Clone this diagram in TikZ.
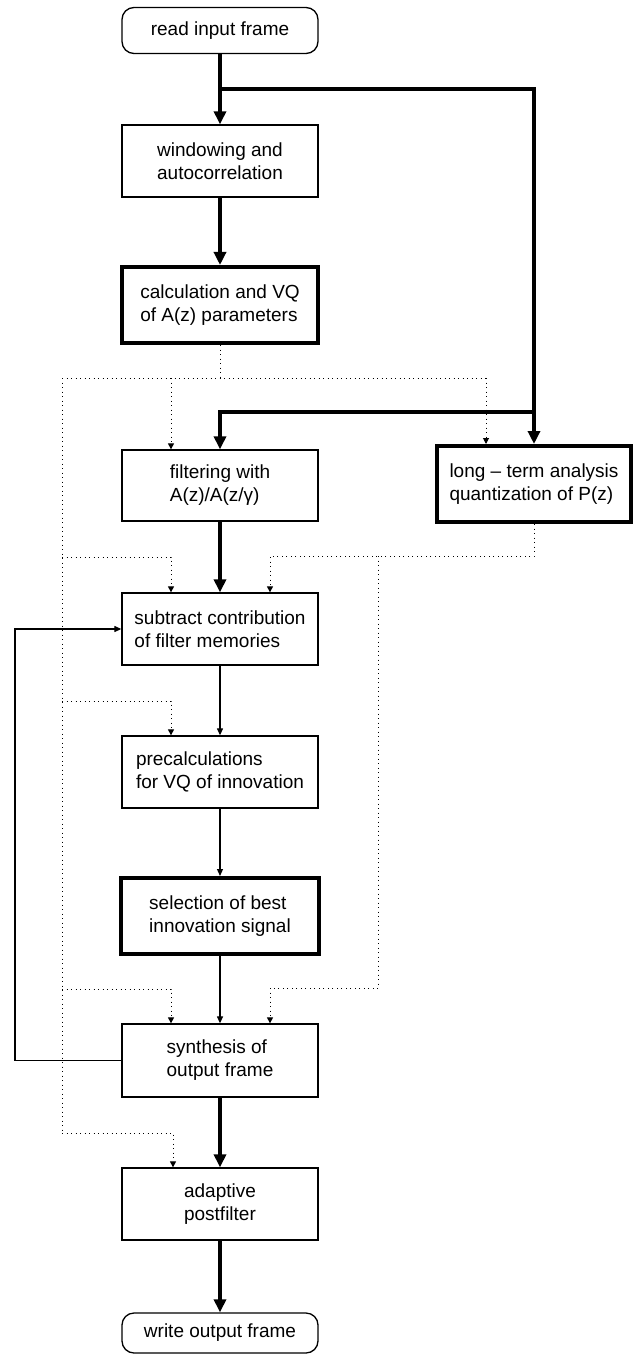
\documentclass[tikz,border=0pt]{standalone}
\usepackage{fontspec}
\setmainfont{Liberation Sans}
\usetikzlibrary{arrows.meta}

\tikzset{
  box/.style={draw, line width=1.3pt, minimum width=196pt, minimum height=72pt,
    align=left, inner sep=0pt, font=\fontsize{19}{23}\selectfont},
  boldbox/.style={box, line width=4pt, minimum height=76pt},
  endbox/.style={box, rounded corners=12pt, minimum height=46pt},
  flow/.style={line width=4.5pt, -{Triangle[length=13pt,width=12pt]}},
  sig/.style={line width=1.2pt, -{Triangle[length=7pt,width=6pt]}},
  ctrl/.style={line width=1pt, dash pattern=on 1pt off 3.5pt},
  ctrlarr/.style={ctrl, -{Triangle[length=6pt,width=6pt]}},
}

\begin{document}
\begin{tikzpicture}[x=1pt,y=-1pt]
\useasboundingbox (0,0) rectangle (634,1356);

% blocks
\node[endbox] (read) at (220,30.5) {read input frame};
\node[box] (win) at (220,161) {windowing and\\autocorrelation};
\node[boldbox] (calc) at (220,305) {calculation and VQ\\of A(z) parameters};
\node[box, minimum height=71pt] (filt) at (220,485.5) {filtering with\\A(z)/A(z/γ)};
\node[boldbox, minimum width=194pt] (lta) at (534,484) {long -- term analysis\\quantization of P(z)};
\node[box] (sub) at (220,629) {subtract contribution\\of filter memories};
\node[box] (pre) at (220,772) {precalculations\\for VQ of innovation};
\node[boldbox, minimum width=198pt] (sel) at (220,916) {selection of best\\innovation signal};
\node[box, minimum height=73pt] (syn) at (220,1060.5) {synthesis of\\output frame};
\node[box] (ada) at (220,1204) {adaptive\\postfilter};
\node[endbox, minimum height=40pt] (wri) at (220,1333) {write output frame};

% branch points
\coordinate (split) at (220,89);
\coordinate (fork) at (534,412);
\coordinate (aLeft) at (62,378);
\coordinate (aMid) at (220,378);
\coordinate (aIn) at (171,378);
\coordinate (aRight) at (486,378);
\coordinate (pLeft) at (270,556);
\coordinate (pBus) at (378,556);
\coordinate (pLow) at (378,988);
\coordinate (b1) at (62,557);
\coordinate (b2) at (62,701);
\coordinate (b3) at (62,989);
\coordinate (b4) at (62,1133);
\coordinate (fb) at (15,1060.5);

% main signal path
\draw[flow] (read) -- (win);
\draw[flow] (win) -- (calc);
\draw[flow] (split) -| (lta);
\draw[flow] (fork) -| (filt);
\draw[flow] (filt) -- (sub);
\draw[sig] (sub) -- (pre);
\draw[sig] (pre) -- (sel);
\draw[sig] (sel) -- (syn);
\draw[flow] (syn) -- (ada);
\draw[flow] (ada) -- (wri);
\draw[sig] (syn.west) -- (fb) |- (sub.west);

% parameters (dotted)
\draw[ctrl] (calc) -- (aMid);
\draw[ctrl] (aLeft) -- (aRight);
\draw[ctrl] (aLeft) -- (b4);
\draw[ctrlarr] (aIn) -- (aIn |- filt.north);
\draw[ctrlarr] (aRight) -- (aRight |- lta.north);
\draw[ctrlarr] (lta.south) |- (pLeft) -- ([xshift=50pt]sub.north);
\draw[ctrlarr] (pBus) -- (pLow) -| ([xshift=50pt]syn.north);
\draw[ctrlarr] (b1) -| ([xshift=-49pt]sub.north);
\draw[ctrlarr] (b2) -| ([xshift=-49pt]pre.north);
\draw[ctrlarr] (b3) -| ([xshift=-49pt]syn.north);
\draw[ctrlarr] (b4) -| ([xshift=-47pt]ada.north);
\end{tikzpicture}
\end{document}
